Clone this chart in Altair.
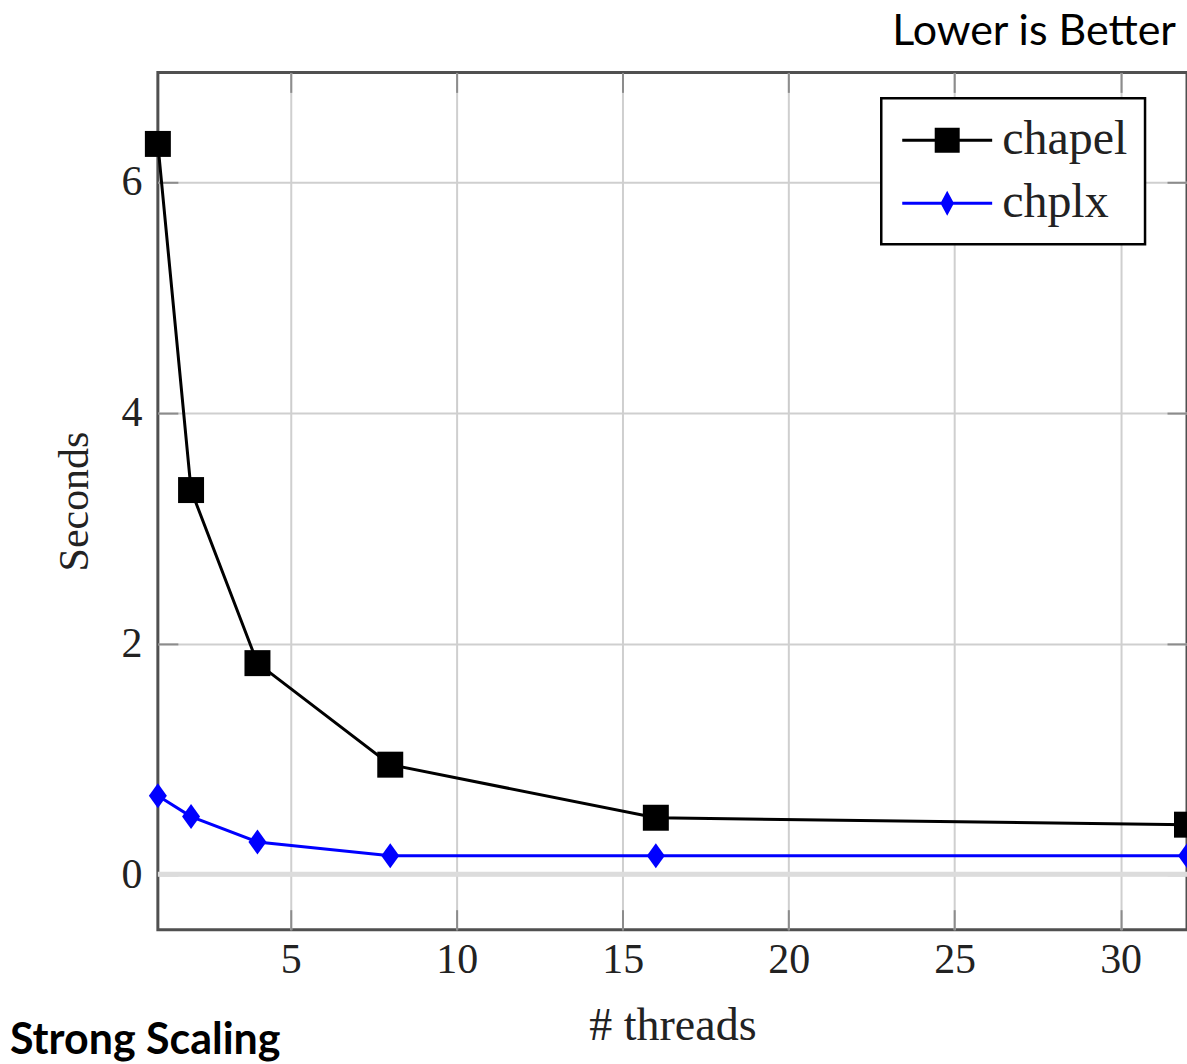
import altair as alt
import pandas as pd

threads = [1, 2, 4, 8, 16, 32]
chapel_seconds = [6.33, 3.33, 1.83, 0.95, 0.49, 0.43]
chplx_seconds = [0.68, 0.50, 0.28, 0.16, 0.16, 0.16]
series_names = ["chapel", "chplx"]
series_colors = ["#000000", "#0000ff"]
x_ticks = [5, 10, 15, 20, 25, 30]
y_ticks = [0, 2, 4, 6]
x_title = "# threads"
y_title = "Seconds"
note_text = "Lower is Better"
caption_text = "Strong Scaling"

df = pd.DataFrame({
    "threads": threads * 2,
    "seconds": chapel_seconds + chplx_seconds,
    "series": [series_names[0]] * len(threads) + [series_names[1]] * len(threads),
})

SERIF = "Liberation Serif"
SANS = "Lato"

xscale = alt.Scale(domain=[1, 32], nice=False, zero=False)
yscale = alt.Scale(domain=[-0.48, 6.95], nice=False, zero=False)

x_main = alt.X("threads:Q", scale=xscale,
               axis=alt.Axis(orient="bottom", values=x_ticks, title=x_title, grid=True, ticks=False,
                             domain=False, format="d",
                             gridColor="#cfcfcf", gridWidth=2, labelFont=SERIF, labelFontSize=42,
                             labelColor="#222", labelPadding=10, titleFont=SERIF, titleFontSize=46,
                             titleFontWeight="normal", titleColor="#222", titlePadding=23))
y_main = alt.Y("seconds:Q", scale=yscale,
               axis=alt.Axis(orient="left", values=y_ticks, title=y_title, grid=True, ticks=False,
                             domain=False, format="d",
                             gridColor="#cfcfcf", gridWidth=2, labelFont=SERIF, labelFontSize=42,
                             labelColor="#222", labelPadding=16, titleFont=SERIF, titleFontSize=42,
                             titleFontWeight="normal", titleColor="#222", titlePadding=24))
x_plain = alt.X("threads:Q", scale=xscale, axis=None)
y_plain = alt.Y("seconds:Q", scale=yscale, axis=None)


def tick_axis(orient, values):
    return alt.Axis(orient=orient, values=values, offset=-20, tickSize=20, tickWidth=2,
                    tickColor="#8c8c8c", labels=False, domain=False, grid=False, title=None)


base = alt.Chart(df)

axis_holder = base.mark_point(opacity=0).encode(x=x_main, y=y_main)
ticks_bottom = base.mark_point(opacity=0).encode(
    x=alt.X("threads:Q", scale=xscale, axis=tick_axis("bottom", x_ticks)), y=y_plain)
ticks_top = base.mark_point(opacity=0).encode(
    x=alt.X("threads:Q", scale=xscale, axis=tick_axis("top", x_ticks)), y=y_plain)
ticks_left = base.mark_point(opacity=0).encode(
    x=x_plain, y=alt.Y("seconds:Q", scale=yscale, axis=tick_axis("left", y_ticks)))
ticks_right = base.mark_point(opacity=0).encode(
    x=x_plain, y=alt.Y("seconds:Q", scale=yscale, axis=tick_axis("right", y_ticks)))

zero_rule = alt.Chart(pd.DataFrame({"seconds": [0]})).mark_rule(
    color="#dcdcdc", strokeWidth=5).encode(y=y_plain)

diamond_path = "M0,-1L0.72,0L0,1L-0.72,0Z"
chapel_line = base.transform_filter(alt.datum.series == series_names[0]).mark_line(
    color=series_colors[0], strokeWidth=3).encode(x=x_plain, y=y_plain)
chplx_line = base.transform_filter(alt.datum.series == series_names[1]).mark_line(
    color=series_colors[1], strokeWidth=3).encode(x=x_plain, y=y_plain)
chapel_pts = base.transform_filter(alt.datum.series == series_names[0]).mark_point(
    shape="square", filled=True, size=676, opacity=1, color=series_colors[0]).encode(x=x_plain, y=y_plain)
chplx_pts = base.transform_filter(alt.datum.series == series_names[1]).mark_point(
    shape=diamond_path, filled=True, size=625, opacity=1, color=series_colors[1]).encode(x=x_plain, y=y_plain)

legend_paths = [
    "M-1.8,-0.06H1.8V0.06H-1.8Z M-0.5,-0.5H0.5V0.5H-0.5Z",
    "M-1.8,-0.06H1.8V0.06H-1.8Z M0,-0.5L0.27,0L0,0.5L-0.27,0Z",
]
leg = alt.Legend(title=None, orient="none", legendX=724, legendY=26, padding=17,
                 strokeColor="#000", fillColor="#fff", symbolSize=2500,
                 symbolStrokeWidth=0, symbolOffset=24, labelOffset=30, labelFont=SERIF,
                 labelFontSize=48, labelColor="#222", rowPadding=14, symbolOpacity=1)
legend_layer = base.transform_filter(alt.datum.threads < 0).mark_point(
    filled=True, opacity=1).encode(
    x=x_plain, y=y_plain,
    color=alt.Color("series:N", scale=alt.Scale(domain=series_names, range=series_colors), legend=leg),
    shape=alt.Shape("series:N", scale=alt.Scale(domain=series_names, range=legend_paths), legend=leg),
)

note = alt.Chart(pd.DataFrame({"t": [note_text]})).mark_text(
    font=SANS, fontSize=43, align="right", baseline="middle", color="#000").encode(
    text="t:N", x=alt.value(1019), y=alt.value(-40))
caption = alt.Chart(pd.DataFrame({"t": [caption_text]})).mark_text(
    font=SANS, fontSize=43, fontWeight="bold", align="left", baseline="alphabetic", color="#000").encode(
    text="t:N", x=alt.value(-148), y=alt.value(982))

chart = alt.layer(
    axis_holder, ticks_bottom, ticks_top, ticks_left, ticks_right,
    zero_rule, chapel_line, chplx_line, chapel_pts, chplx_pts, legend_layer, note, caption
).resolve_axis(x="independent", y="independent").properties(
    width=1030, height=858,
    padding={"left": 158, "top": 72, "right": 0, "bottom": 134},
    autosize=alt.AutoSizeParams(type="none"),
    background="#ffffff",
).configure_view(stroke="#505050", strokeWidth=3).configure_legend(strokeWidth=2.5)

chart.save("out.html", embed_options={"renderer": "svg", "actions": False})
